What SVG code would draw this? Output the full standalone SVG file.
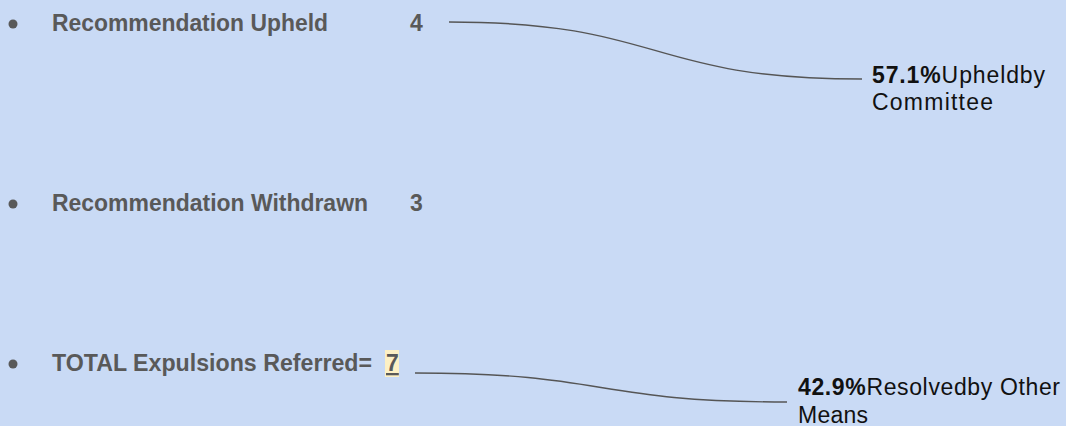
<svg xmlns="http://www.w3.org/2000/svg" width="1066" height="426" viewBox="0 0 1066 426">
<style>
.lbl{font-family:"Liberation Sans",Arial,sans-serif;font-size:23px;font-weight:bold;fill:#595959}
.pct{font-family:"Liberation Sans",Arial,sans-serif;font-size:23px;fill:#111}
.pct tspan.b{font-weight:bold}
.bul{fill:#595959}
.conn{fill:none;stroke:#555;stroke-width:1.4}
</style>
<rect width="1066" height="426" fill="#c9daf5"/>
<g id="row-upheld">
<circle class="bul" cx="13" cy="24" r="4.5"/>
<text class="lbl" x="52" y="31" textLength="276" lengthAdjust="spacingAndGlyphs">Recommendation Upheld</text>
<text class="lbl" x="410" y="31">4</text>
</g>
<g id="row-withdrawn">
<circle class="bul" cx="13" cy="204" r="4.5"/>
<text class="lbl" x="52" y="211" textLength="316" lengthAdjust="spacingAndGlyphs">Recommendation Withdrawn</text>
<text class="lbl" x="410" y="211">3</text>
</g>
<g id="row-total">
<circle class="bul" cx="13" cy="364" r="4.5"/>
<text class="lbl" x="52" y="371" textLength="320" lengthAdjust="spacingAndGlyphs">TOTAL Expulsions Referred=</text>
<rect x="385" y="350" width="14" height="27" fill="#fdf0c4"/>
<text class="lbl" x="386" y="371" text-decoration="underline">7</text>
</g>
<g id="label-upheld">
<text class="pct" x="872" y="83" textLength="173" lengthAdjust="spacing"><tspan class="b">57.1%</tspan>Upheldby</text>
<text class="pct" x="872" y="110" textLength="121" lengthAdjust="spacing">Committee</text>
</g>
<g id="label-other">
<text class="pct" x="798" y="395" textLength="262" lengthAdjust="spacing"><tspan class="b">42.9%</tspan>Resolvedby Other</text>
<text class="pct" x="798" y="423" textLength="70" lengthAdjust="spacing">Means</text>
</g>
<g id="connectors">
<path class="conn" d="M449,22 C665,22 645,79 862,79"/>
<path class="conn" d="M415,373 C610,373 592,402 787,402"/>
</g>
</svg>
